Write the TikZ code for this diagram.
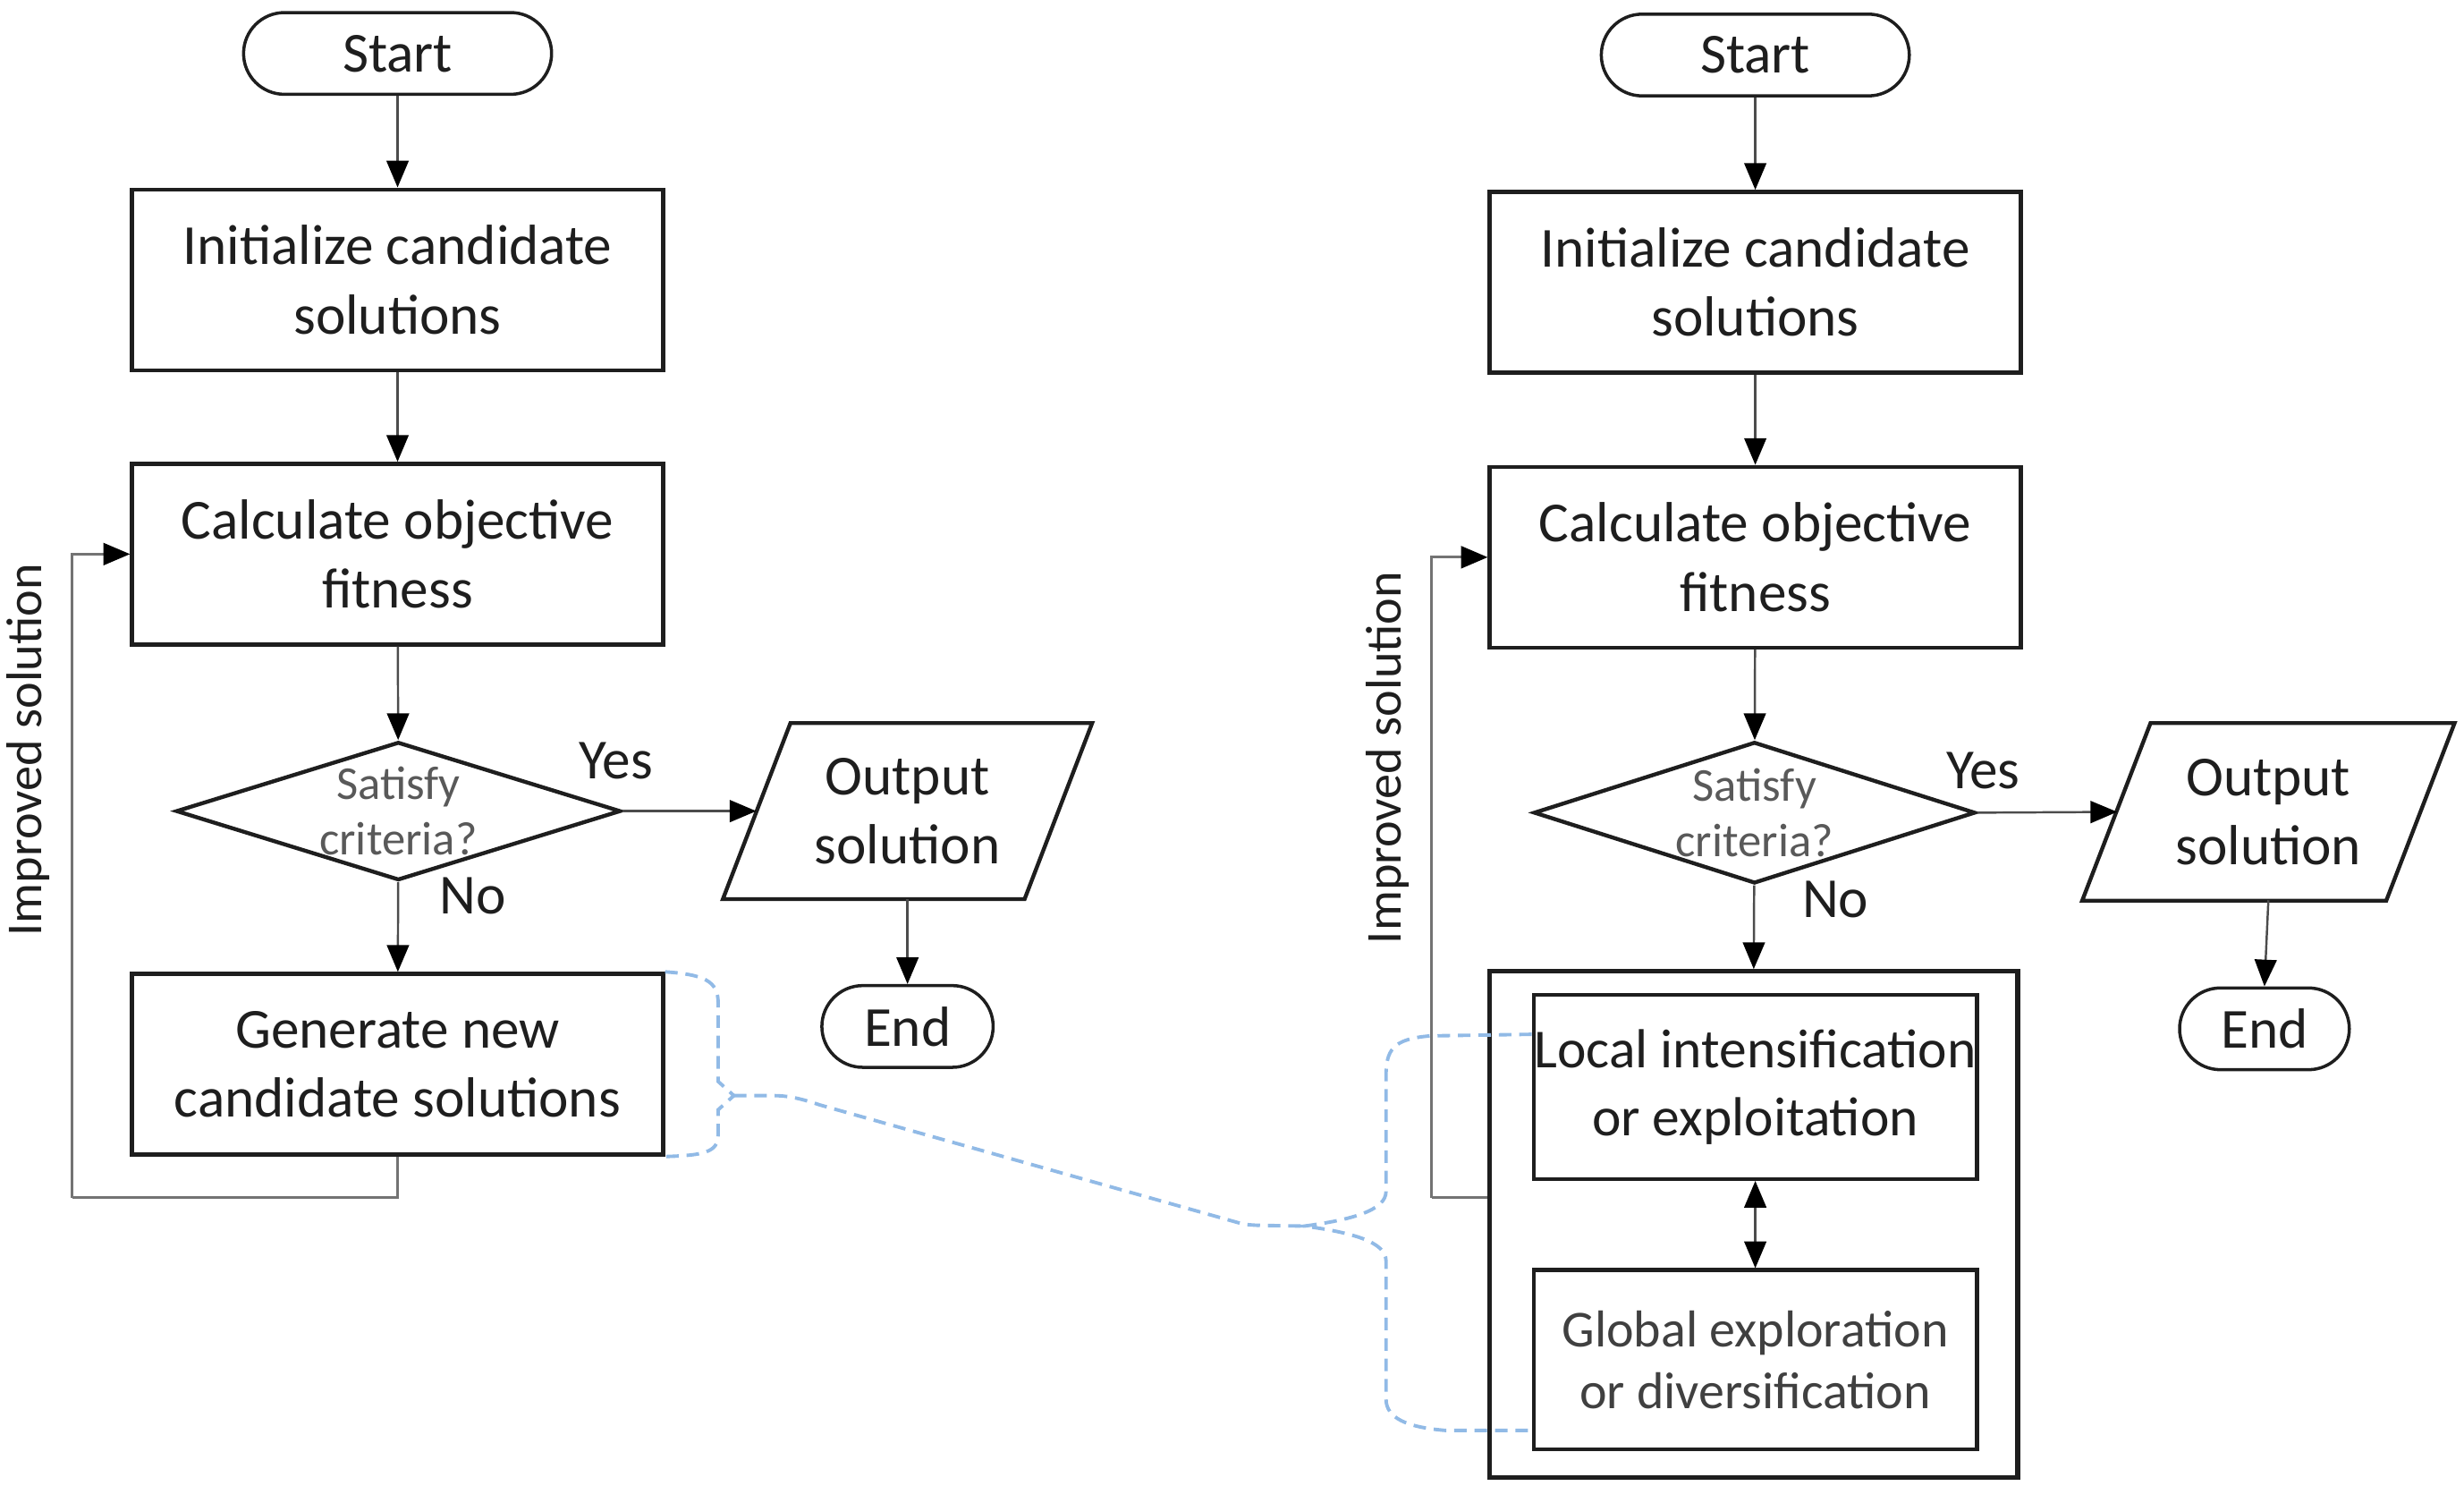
\documentclass[tikz,border=0pt]{standalone}
\usepackage{fontspec}
\setmainfont{Carlito}
\usetikzlibrary{shapes.geometric,arrows.meta,calc}
\definecolor{braceblue}{RGB}{145,186,230}
\definecolor{inkc}{RGB}{30,30,30}
\begin{document}
\begin{tikzpicture}[x=1pt,y=-1pt,
  every node/.style={font=\fontsize{36}{44}\selectfont, align=center, text=inkc},
  proc/.style={draw=inkc, line width=2.5pt, minimum width=338pt, minimum height=115pt, inner sep=0pt},
  term/.style={draw=inkc, line width=2pt, rounded corners=26pt, minimum width=196pt, minimum height=52pt, inner sep=0pt},
  dia/.style={diamond, draw=inkc, line width=2.5pt, minimum width=283pt, minimum height=88pt, inner sep=0pt},
  dtext/.style={font=\fontsize{30}{35}\selectfont, text=black!65},
  plainbox/.style={minimum width=192pt, minimum height=112pt, inner sep=0pt},
  parabox/.style={draw=inkc, line width=2.5pt, line join=miter},
  arr/.style={-{Triangle[width=14pt,length=17pt,color=black]}, line width=1.4pt, draw=black!70},
  darr/.style={{Triangle[width=14pt,length=17pt,color=black]}-{Triangle[width=14pt,length=17pt,color=black]}, line width=1.4pt, draw=black!70},
  fb/.style={line width=1.8pt, draw=black!55},
  lbl/.style={font=\fontsize{36}{44}\selectfont},
  sidelbl/.style={font=\fontsize{32}{38}\selectfont, rotate=90},
  bluedash/.style={draw=braceblue, line width=2.2pt, dash pattern=on 8pt off 5pt}
]
\useasboundingbox (0,0) rectangle (1568,955.6);

% ---------------- left flowchart ----------------
\node[term] (s1) at (253,34) {Start};
\node[proc] (i1) at (253,178) {Initialize candidate\\solutions};
\node[proc] (c1) at (253,352.5) {Calculate objective\\fitness};
\node[dia] (d1) at (253.5,516) {};
\node[dtext] (d1t) at (d1.center) {Satisfy\\criteria?};
\node[proc] (g1) at (253,677) {Generate new\\candidate solutions};
\node[plainbox] (o1) at (577.5,516) {Output\\solution};
\draw[parabox] ([shift={(-74.5,-56)}]o1.center) -- ([shift={(117.5,-56)}]o1.center)
   -- ([shift={(74.5,56)}]o1.center) -- ([shift={(-117.5,56)}]o1.center) -- cycle;
\node[term, minimum width=109pt] (e1) at (577.5,653) {End};

\draw[arr] (s1) -- (i1);
\draw[arr] (i1) -- (c1);
\draw[arr] (c1) -- (d1);
\draw[arr] (d1) -- (g1);
\draw[arr] (d1.east) -- (o1.west);
\draw[arr] (o1.south) -- (e1.north);
\node[lbl] (y1) at (392,484) {Yes};
\node[lbl] (n1) at (301,570) {No};

\coordinate (fbL) at (46,762);
\draw[fb] (g1.south) |- (fbL);
\draw[arr, draw=black!55, line width=1.8pt] (fbL) |- (c1.west);
\node[sidelbl] (imp1) at (18,477) {Improved solution};

% ---------------- right flowchart ----------------
\node[term] (s2) at (1117,35) {Start};
\node[proc] (i2) at (1117,179.5) {Initialize candidate\\solutions};
\node[proc] (c2) at (1117,354.5) {Calculate objective\\fitness};
\node[dia, minimum width=281pt, minimum height=90pt] (d2) at (1116.5,517) {};
\node[dtext] (d2t) at (d2.center) {Satisfy\\criteria?};
\node[plainbox] (o2) at (1443.5,516.5) {Output\\solution};
\draw[parabox] ([shift={(-75,-56.5)}]o2.center) -- ([shift={(118.5,-56.5)}]o2.center)
   -- ([shift={(75,56.5)}]o2.center) -- ([shift={(-118.5,56.5)}]o2.center) -- cycle;
\node[term, minimum width=108pt] (e2) at (1441,654.5) {End};

\node[draw=inkc, line width=3pt, minimum width=336pt, minimum height=322pt, inner sep=0pt] (outer) at (1116,779) {};
\node[proc, minimum width=282pt, minimum height=117pt, font=\fontsize{35}{43}\selectfont] (loc) at (1117,691.5) {Local intensification\\or exploitation};
\node[proc, minimum width=282pt, minimum height=114pt, font=\fontsize{33}{39}\selectfont, text=black!75] (glob) at (1117,865) {Global exploration\\or diversification};

\draw[arr] (s2) -- (i2);
\draw[arr] (i2) -- (c2);
\draw[arr] (c2) -- (d2);
\draw[arr] (d2) -- (outer.north);
\draw[arr] (d2.east) -- (o2.west);
\draw[arr] (o2.south) -- (e2.north);
\draw[darr] (loc.south) -- (glob.north);
\node[lbl] (y2) at (1262,490) {Yes};
\node[lbl] (n2) at (1168,572) {No};

\coordinate (fbR) at (911,762);
\draw[fb] (outer.west |- fbR) -- (fbR);
\draw[arr, draw=black!55, line width=1.8pt] (fbR) |- (c2.west);
\node[sidelbl] (imp2) at (883,482) {Improved solution};

% ---------------- dashed blue braces ----------------
\coordinate (lt) at (467,697);
\coordinate (rt) at (830,780);
\draw[bluedash] (g1.north east) .. controls (448,620) and (457,624) .. (457,638)
   -- (457,688) -- (lt) -- (457,706) -- (457,722)
   .. controls (457,733) and (448,735) .. (g1.south east);
\draw[bluedash] (lt) -- (492,697) .. controls (502,697) and (510,699) .. (522,703)
   -- (785,777) .. controls (792,779) .. (800,779.5) -- (rt);
\draw[bluedash] (loc.west |- 0,658) -- (910,659) .. controls (886,661) and (882,668) .. (882,685)
   -- (882,758) .. controls (882,770) and (860,776) .. (rt)
   .. controls (860,784) and (882,790) .. (882,802)
   -- (882,890) .. controls (882,902) and (895,908) .. (920,910) -- (glob.west |- 0,910);
\end{tikzpicture}
\end{document}
